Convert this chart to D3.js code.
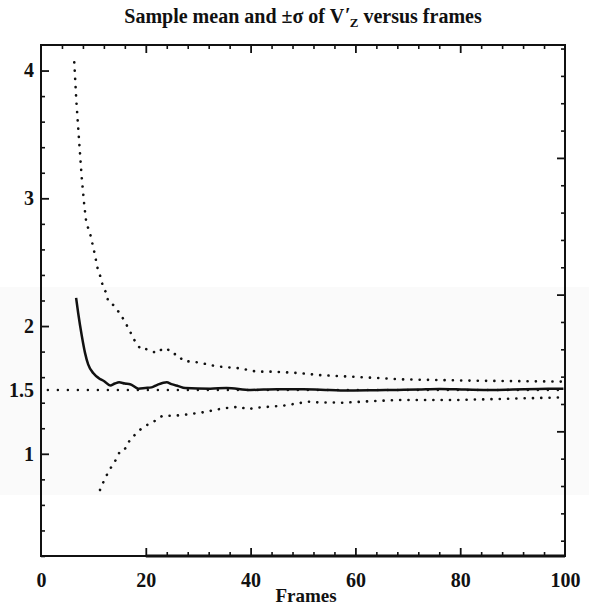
<!DOCTYPE html>
<html lang="en">
<head>
<meta charset="utf-8">
<title>Sample mean and sigma versus frames</title>
<script src="https://d3js.org/d3.v7.min.js"></script>
<style>
  body { margin: 0; background: #fff; }
  .tick text { font-family: "Liberation Serif", serif; font-weight: bold; font-size: 20px; fill: #111; }
  .title { font-family: "Liberation Serif", serif; font-weight: bold; font-size: 20px; fill: #111; }
  .label { font-family: "Liberation Serif", serif; font-weight: bold; font-size: 19px; fill: #111; }
</style>
</head>
<body>
<div id="vis"></div>
<script>
// sample mean (solid)
const meanFrames = [6.7, 7.1, 7.8, 8.4, 9.0, 10.0, 11.1, 12.0, 13.2, 14.1, 14.9, 16.0, 17.0, 18.6, 19.9, 21.1, 22.2, 24.0, 24.9, 26.2, 27.5, 32.3, 35.4, 40, 45, 50, 55, 59, 64, 68, 72, 76, 81, 86, 90, 95, 99.7];
const meanValues = [2.22, 2.10, 1.92, 1.79, 1.70, 1.63, 1.59, 1.57, 1.535, 1.55, 1.56, 1.55, 1.545, 1.51, 1.515, 1.52, 1.54, 1.56, 1.545, 1.53, 1.515, 1.51, 1.515, 1.50, 1.505, 1.505, 1.50, 1.496, 1.498, 1.50, 1.503, 1.507, 1.503, 1.50, 1.503, 1.507, 1.51];

// mean + sigma (dotted)
const upperFrames = [6.35, 6.74, 7.25, 7.77, 8.26, 8.65, 9.35, 10.17, 10.88, 11.39, 11.89, 12.35, 12.84, 13.8, 14.94, 15.84, 16.85, 17.81, 19.03, 20.04, 21.13, 22.08, 23.04, 23.99, 25.13, 26.01, 27.16, 29.07, 30.97, 32.12, 34.16, 37.98, 41.16, 44.33, 48.15, 51.0, 52.6, 58.97, 65.32, 68.38, 83.1, 99.7];
const upperValues = [4.065, 3.764, 3.462, 3.164, 2.945, 2.807, 2.728, 2.580, 2.436, 2.382, 2.296, 2.269, 2.191, 2.165, 2.105, 2.047, 1.969, 1.891, 1.818, 1.820, 1.805, 1.787, 1.818, 1.826, 1.781, 1.779, 1.726, 1.721, 1.708, 1.695, 1.682, 1.669, 1.643, 1.643, 1.635, 1.625, 1.617, 1.604, 1.591, 1.583, 1.572, 1.565];

// mean - sigma (dotted)
const lowerFrames = [11.26, 12.21, 13.17, 14.25, 15.2, 16.16, 17.11, 18.13, 19.21, 20.29, 21.24, 22.2, 23.2, 25.0, 27.16, 30.97, 34.79, 37.98, 39.26, 41.16, 46.24, 51.01, 52.6, 57.7, 63.4, 68.4, 79.3, 99.7];
const lowerValues = [0.717, 0.808, 0.881, 0.951, 1.030, 1.043, 1.121, 1.155, 1.200, 1.226, 1.243, 1.272, 1.298, 1.298, 1.304, 1.325, 1.356, 1.369, 1.348, 1.361, 1.377, 1.408, 1.403, 1.400, 1.413, 1.421, 1.421, 1.442];

// reference level
const refFrames = [1.3, 100];
const refLevel = 1.5;

// ticks
const xMajor = [0, 20, 40, 60, 80, 100];
const xMinorTop = d3.range(4, 100, 4).filter(v => v % 20 !== 0);
const xMinorBottom = d3.range(24, 100, 4).filter(v => v % 20 !== 0);
const yLabels = [1, 1.5, 2, 3, 4];
const yMinor = d3.range(2, 42, 2).map(v => v / 10).filter(v => v % 1 !== 0);
const rMajor = [1, 2, 3];
const rMinor = d3.range(2, 39, 2).map(v => v / 10).filter(v => v % 1 !== 0);

const width = 589, height = 607;
const mLeft = 41, mRight = 565, mTop = 45, mBottom = 556;

const svg = d3.select("#vis").append("svg")
    .attr("width", width)
    .attr("height", height);

// faint scan band
svg.append("rect")
   .attr("x", 0).attr("y", 287)
   .attr("width", width).attr("height", 208)
   .attr("fill", "#fafafa");

const x = d3.scaleLinear().domain([0, 100]).range([mLeft, mRight]);
const y = d3.scaleLinear().domain([0.2, 4.2]).range([mBottom, mTop]);
const yR = d3.scaleLinear().domain([0.088, 3.826]).range([mBottom, mTop]);

//frame
svg.append("rect")
   .attr("x", mLeft).attr("y", mTop)
   .attr("width", mRight - mLeft).attr("height", mBottom - mTop)
   .attr("fill", "none").attr("stroke", "#111").attr("stroke-width", 2);

function styleAxis(g, w) {
    g.select(".domain").remove();
    g.selectAll(".tick line").attr("stroke", "#111").attr("stroke-width", w);
}

//left axis
svg.append("g").attr("transform", `translate(${mLeft},0)`)
   .call(d3.axisLeft(y).tickValues(yMinor).tickSize(-4).tickFormat(""))
   .call(g => styleAxis(g, 1.6));
svg.append("g").attr("transform", `translate(${mLeft},0)`)
   .call(d3.axisLeft(y).tickValues(yLabels).tickSize(-8).tickPadding(7).tickFormat(d3.format("")))
   .call(g => styleAxis(g, 1.8))
   .call(g => g.selectAll(".tick").filter(d => d === 1.5).select("line").remove());

//right axis
svg.append("g").attr("transform", `translate(${mRight},0)`)
   .call(d3.axisRight(yR).tickValues(rMinor).tickSize(-4).tickFormat(""))
   .call(g => styleAxis(g, 1.6));
svg.append("g").attr("transform", `translate(${mRight},0)`)
   .call(d3.axisRight(yR).tickValues(rMajor).tickSize(-8).tickFormat(""))
   .call(g => styleAxis(g, 1.8));

//top axis
svg.append("g").attr("transform", `translate(0,${mTop})`)
   .call(d3.axisTop(x).tickValues(xMinorTop).tickSize(-4).tickFormat(""))
   .call(g => styleAxis(g, 1.6));
svg.append("g").attr("transform", `translate(0,${mTop})`)
   .call(d3.axisTop(x).tickValues([20, 40, 60, 80]).tickSize(-8).tickFormat(""))
   .call(g => styleAxis(g, 1.8));

//bottom axis
svg.append("g").attr("transform", `translate(0,${mBottom})`)
   .call(d3.axisBottom(x).tickValues(xMinorBottom).tickSize(-4).tickFormat(""))
   .call(g => styleAxis(g, 1.6));
svg.append("g").attr("transform", `translate(0,${mBottom})`)
   .call(d3.axisBottom(x).tickValues(xMajor).tickSize(-8).tickPadding(17).tickFormat(d3.format("")))
   .call(g => styleAxis(g, 1.8))
   .call(g => g.selectAll(".tick").filter(d => d === 0 || d === 100).select("line").remove());
svg.append("line")
   .attr("x1", x(20)).attr("x2", mRight)
   .attr("y1", mBottom).attr("y2", mBottom)
   .attr("stroke", "#111").attr("stroke-width", 3);

const line = d3.line().x(d => x(d[0])).y(d => y(d[1]));

//reference dotted line
svg.append("path")
   .datum(refFrames.map(f => [f, refLevel]))
   .attr("d", line)
   .attr("fill", "none").attr("stroke", "#111")
   .attr("stroke-width", 2.4).attr("stroke-linecap", "round")
   .attr("stroke-dasharray", "0.1 9.9");

//sigma curves
[[upperFrames, upperValues], [lowerFrames, lowerValues]].forEach(([fr, vals]) => {
    svg.append("path")
       .datum(fr.map((f, i) => [f, vals[i]]))
       .attr("d", line)
       .attr("fill", "none").attr("stroke", "#111")
       .attr("stroke-width", 2.6).attr("stroke-linecap", "round")
       .attr("stroke-dasharray", "0.1 8.2");
});

//mean
svg.append("path")
   .datum(meanFrames.map((f, i) => [f, meanValues[i]]))
   .attr("d", d3.line().x(d => x(d[0])).y(d => y(d[1])).curve(d3.curveMonotoneX))
   .attr("fill", "none").attr("stroke", "#111")
   .attr("stroke-width", 2.5);

//title
const title = svg.append("text")
   .attr("class", "title")
   .attr("x", 303).attr("y", 23)
   .attr("text-anchor", "middle");
title.append("tspan").text("Sample mean and \u00b1\u03c3 of V");
title.append("tspan").attr("dx", 1).attr("dy", -1).text("\u2032");
title.append("tspan").attr("dx", -1).attr("dy", 5).attr("font-size", 13).text("Z");
title.append("tspan").attr("dy", -4).text(" versus frames");

//x label
svg.append("text")
   .attr("class", "label")
   .attr("x", 306).attr("y", 602)
   .attr("text-anchor", "middle")
   .text("Frames");
</script>
</body>
</html>
